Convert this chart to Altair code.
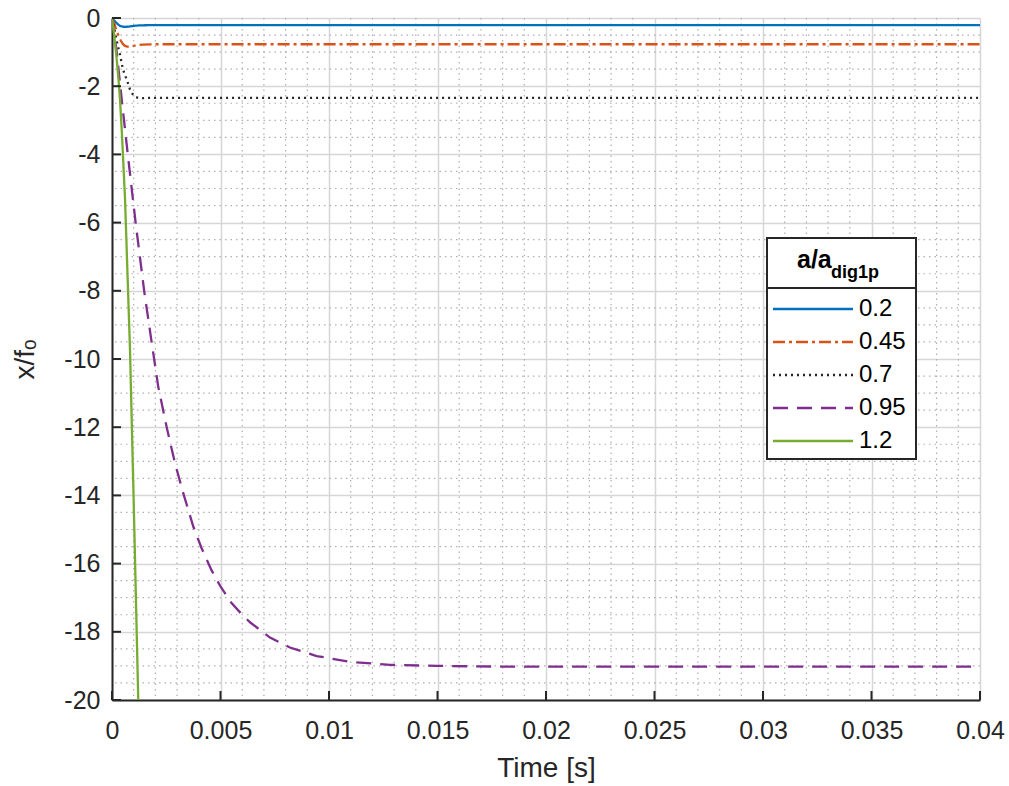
import altair as alt
import pandas as pd

FONT = "Liberation Sans, Arial, sans-serif"

series_names = ["0.2", "0.45", "0.7", "0.95", "1.2"]
series_colors = ["#0072BD", "#D95319", "#262626", "#7E2F8E", "#77AC30"]
series_dashes = [[1, 0], [12, 4, 3, 4], [2, 4], [15, 9], [1, 0]]

t_02 = [0, 0.0001, 0.0002, 0.0003, 0.0004, 0.0005, 0.0006, 0.0008, 0.001, 0.0013, 0.0018, 0.003, 0.04]
x_02 = [0, -0.07, -0.14, -0.2, -0.24, -0.255, -0.26, -0.25, -0.23, -0.215, -0.21, -0.21, -0.21]

t_045 = [0, 0.0001, 0.0002, 0.0003, 0.0004, 0.0005, 0.0006, 0.0007, 0.0009, 0.0011, 0.0014, 0.002, 0.04]
x_045 = [0, -0.15, -0.35, -0.52, -0.66, -0.76, -0.82, -0.84, -0.83, -0.8, -0.78, -0.77, -0.77]

t_07 = [0, 0.00015, 0.00028, 0.00037, 0.0005, 0.0006, 0.0007, 0.00083, 0.00095, 0.00106, 0.0012, 0.0014, 0.0018, 0.04]
x_07 = [0, -0.45, -0.85, -1.08, -1.5, -1.68, -1.84, -2.1, -2.23, -2.31, -2.34, -2.35, -2.34, -2.34]

t_095 = [0, 0.0002, 0.00045, 0.00072, 0.00109, 0.00149, 0.00186, 0.00213, 0.00252, 0.0029, 0.00329,
         0.00375, 0.00413, 0.00459, 0.00498, 0.0055, 0.006, 0.00636, 0.00728, 0.0082, 0.00943,
         0.01097, 0.01281, 0.01496, 0.01773, 0.022, 0.04]
x_095 = [0, -0.9, -2.4, -3.96, -6.01, -8.04, -9.65, -10.81, -12.0, -13.05, -13.95,
         -14.92, -15.55, -16.2, -16.65, -17.15, -17.5, -17.72, -18.17, -18.46, -18.71,
         -18.88, -18.97, -19.0, -19.02, -19.02, -19.02]

t_12 = [0, 0.0001, 0.0002, 0.0003, 0.00037, 0.00045, 0.0006, 0.00083, 0.001, 0.00121]
x_12 = [0, -0.5, -1.1, -1.8, -2.4, -3.3, -5.3, -9.74, -14.2, -20]

x_major = [0, 0.005, 0.01, 0.015, 0.02, 0.025, 0.03, 0.035, 0.04]
y_major = [-20, -18, -16, -14, -12, -10, -8, -6, -4, -2, 0]
x_minor = [0.001, 0.002, 0.003, 0.004, 0.006, 0.007, 0.008, 0.009, 0.011, 0.012, 0.013, 0.014,
           0.016, 0.017, 0.018, 0.019, 0.021, 0.022, 0.023, 0.024, 0.026, 0.027, 0.028, 0.029,
           0.031, 0.032, 0.033, 0.034, 0.036, 0.037, 0.038, 0.039]
y_minor = [-19.5, -19, -18.5, -17.5, -17, -16.5, -15.5, -15, -14.5, -13.5, -13, -12.5,
           -11.5, -11, -10.5, -9.5, -9, -8.5, -7.5, -7, -6.5, -5.5, -5, -4.5,
           -3.5, -3, -2.5, -1.5, -1, -0.5]

W, H = 868, 682

rows = []
for name, ts, xs in zip(series_names, [t_02, t_045, t_07, t_095, t_12], [x_02, x_045, x_07, x_095, x_12]):
    for t, x in zip(ts, xs):
        rows.append({"t": t, "x": x, "series": name})
lines_df = pd.DataFrame(rows)

xscale = alt.Scale(domain=[0, 0.04], nice=False, zero=False)
yscale = alt.Scale(domain=[-20, 0], nice=False, zero=False)

x_axis = alt.Axis(
    values=x_major, labelExpr="toString(datum.value)", title="Time [s]",
    grid=True, gridColor="#d6d6d6", gridWidth=1.5,
    domain=True, domainColor="#262626", domainWidth=2,
    ticks=False, tickSize=0, labelPadding=38, labelBaseline="alphabetic",
    labelFontSize=25, labelFont=FONT, labelColor="#262626",
    titleFontSize=28, titleFont=FONT, titleFontWeight="normal", titleColor="#262626",
    titleX=434, titleY=76, titleBaseline="alphabetic", labelFlush=False,
)
y_axis = alt.Axis(
    values=y_major, labelExpr="toString(datum.value)", title="x/fₒ",
    grid=True, gridColor="#d6d6d6", gridWidth=1.5,
    domain=True, domainColor="#262626", domainWidth=2,
    ticks=False, tickSize=0, labelPadding=12,
    labelFontSize=25, labelFont=FONT, labelColor="#262626",
    titleFontSize=28, titleFont=FONT, titleFontWeight="normal", titleColor="#262626",
    titleX=-79, titleY=341, titleBaseline="alphabetic", titleAngle=270, labelFlush=False,
)

legend = alt.Legend(
    title=None, orient="none", legendX=659, legendY=279, padding=0,
    symbolType="M-1,0H7", symbolSize=400, symbolStrokeWidth=2.3,
    labelFontSize=24, labelFont=FONT, labelColor="black", labelOffset=64,
    rowPadding=9, labelLimit=200,
)

lines = alt.Chart(lines_df).mark_line(strokeWidth=2.3, clip=True).encode(
    x=alt.X("t:Q", scale=xscale, axis=x_axis),
    y=alt.Y("x:Q", scale=yscale, axis=y_axis),
    color=alt.Color("series:N", scale=alt.Scale(domain=series_names, range=series_colors),
                    sort=series_names, legend=legend),
    strokeDash=alt.StrokeDash("series:N", scale=alt.Scale(domain=series_names, range=series_dashes),
                              sort=series_names, legend=legend),
)

xminor = alt.Chart(pd.DataFrame({"t": x_minor})).mark_rule(
    color="#b0b0b0", strokeWidth=1.2, strokeDash=[1.5, 4]
).encode(x=alt.X("t:Q", scale=xscale, axis=x_axis))

yminor = alt.Chart(pd.DataFrame({"x": y_minor})).mark_rule(
    color="#b0b0b0", strokeWidth=1.2, strokeDash=[1.5, 4]
).encode(y=alt.Y("x:Q", scale=yscale, axis=y_axis))

xticks = alt.Chart(pd.DataFrame({"t": x_major})).mark_rule(color="#262626", strokeWidth=2).encode(
    x=alt.X("t:Q", scale=xscale, axis=x_axis), y=alt.value(H), y2=alt.value(H - 9))

yticks = alt.Chart(pd.DataFrame({"x": y_major})).mark_rule(color="#262626", strokeWidth=2).encode(
    y=alt.Y("x:Q", scale=yscale, axis=y_axis), x=alt.value(0), x2=alt.value(9))

one = pd.DataFrame({"k": [0]})
leg_box = alt.Chart(one).mark_rect(fill="white", stroke="#262626", strokeWidth=2).encode(
    x=alt.value(655), x2=alt.value(804), y=alt.value(220), y2=alt.value(441))
leg_sep = alt.Chart(one).mark_rule(color="#262626", strokeWidth=2).encode(
    x=alt.value(655), x2=alt.value(804), y=alt.value(270))
leg_t1 = alt.Chart(one).mark_text(text="a/a", font=FONT, fontSize=25, fontWeight="bold",
                                  align="left", baseline="alphabetic", color="black").encode(
    x=alt.value(685), y=alt.value(250))
leg_t2 = alt.Chart(one).mark_text(text="dig1p", font=FONT, fontSize=18, fontWeight="bold",
                                  align="left", baseline="alphabetic", color="black").encode(
    x=alt.value(719), y=alt.value(260))

chart = alt.layer(xminor, yminor, lines, xticks, yticks, leg_box, leg_sep, leg_t1, leg_t2).properties(
    width=W, height=H,
    autosize=alt.AutoSizeParams(type="none"),
    padding={"left": 112, "top": 18, "right": 29, "bottom": 86},
    background="white",
).configure_view(stroke="transparent")

chart.save("out.html", embed_options={"renderer": "svg", "actions": False})
